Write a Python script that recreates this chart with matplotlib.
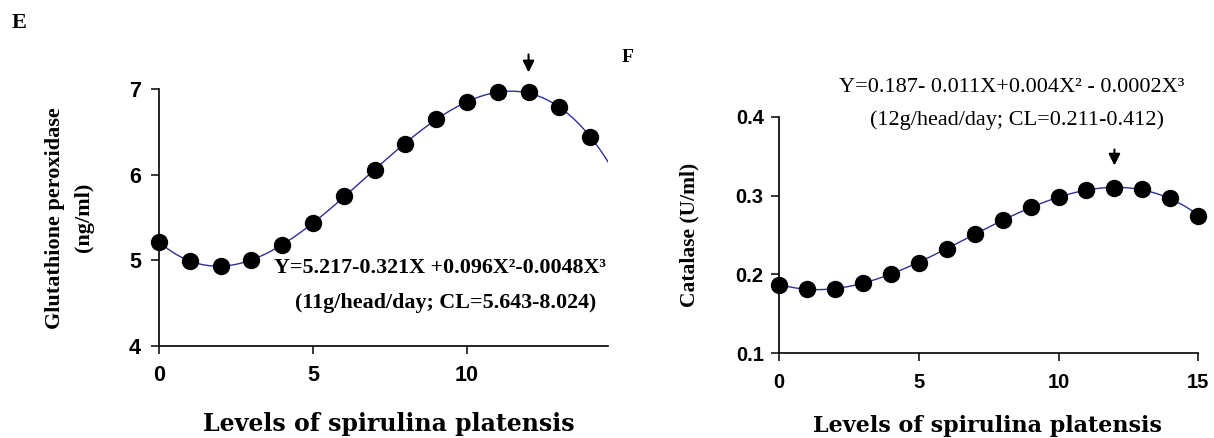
import numpy as np
import matplotlib
matplotlib.use('Agg')
import matplotlib.pyplot as plt

# valores (E: glutationa peroxidase, F: catalase)
levels_e = [0, 1, 2, 3, 4, 5, 6, 7, 8, 9, 10, 11, 12, 13, 14]
gpx = [5.22, 4.99, 4.93, 5.01, 5.18, 5.44, 5.75, 6.06, 6.36, 6.65,
       6.85, 6.965, 6.965, 6.79, 6.445]
levels_f = [0, 1, 2, 3, 4, 5, 6, 7, 8, 9, 10, 11, 12, 13, 14, 15]
catalase = [0.187, 0.182, 0.182, 0.189, 0.201, 0.215, 0.232, 0.251, 0.269,
            0.285, 0.298, 0.307, 0.309, 0.308, 0.297, 0.2745]

opt_e = 12
opt_f = 12
eq_e = ["Y=5.217-0.321X +0.096X\u00b2-0.0048X\u00b3",
        "(11g/head/day; CL=5.643-8.024)"]
eq_f = ["Y=0.187- 0.011X+0.004X\u00b2 - 0.0002X\u00b3",
        "(12g/head/day; CL=0.211-0.412)"]
xlab = "Levels of spirulina platensis"

SERIF = 'Liberation Serif'
SLAB = 'DejaVu Serif'
SANS = 'Liberation Sans'
LINE_C = '#2E2E9C'

W, H = 1214, 438
fig = plt.figure(figsize=(W / 100, H / 100), dpi=100)


def px_axes(x0, x1, y0, y1):
    # caixa em pixels -> fracao da figura
    return fig.add_axes([x0 / W, 1 - y1 / H, (x1 - x0) / W, (y1 - y0) / H])


def style(ax, tick_size, pad_y):
    for s in ['top', 'right']:
        ax.spines[s].set_visible(False)
    for s in ['left', 'bottom']:
        ax.spines[s].set_linewidth(1.2)
    ax.tick_params(direction='out', length=6, width=1.1, labelsize=tick_size)
    ax.tick_params(axis='y', pad=pad_y)
    ax.tick_params(axis='x', pad=8)
    for lb in ax.get_xticklabels() + ax.get_yticklabels():
        lb.set_fontfamily(SANS)
        lb.set_fontweight('bold')


def draw(ax, x, y, xmax):
    coef = np.polyfit(x, y, 3)
    xs = np.linspace(0, xmax, 300)
    ax.plot(xs, np.polyval(coef, xs), color=LINE_C, lw=1.0, zorder=2)
    ax.plot(x, y, 'o', color='black', ms=11.5, zorder=3, clip_on=False)


ARROW = dict(arrowstyle='-|>', color='black', lw=1.5, mutation_scale=17)

# %% painel E
axE = px_axes(159, 608.3, 89.3, 346)
draw(axE, levels_e, gpx, 14.59)
axE.set_xlim(0, 14.59)
axE.set_ylim(4, 7)
axE.set_xticks([0, 5, 10])
axE.set_yticks([4, 5, 6, 7])
style(axE, 15.5, 7)
axE.set_ylabel("Glutathione peroxidase\n(ng/ml)", fontfamily=SERIF,
               fontweight='bold', fontsize=16, linespacing=1.6, va='center')
axE.yaxis.set_label_coords(-0.199, 0.5)
axE.set_xlabel(xlab, fontfamily=SLAB, fontweight='bold', fontsize=17,
               va='center')
axE.xaxis.set_label_coords(0.511, -0.304)
axE.text(9.12, 4.912, eq_e[0], ha='center', va='center', fontfamily=SERIF,
         fontweight='bold', fontsize=15.8)
axE.text(9.3, 4.506, eq_e[1], ha='center', va='center', fontfamily=SERIF,
         fontweight='bold', fontsize=15.8)
ye = gpx[levels_e.index(opt_e)]
axE.annotate('', xy=(opt_e, ye + 0.2), xytext=(opt_e, ye + 0.475),
             arrowprops=ARROW, annotation_clip=False)
fig.text(12 / W, 1 - 28 / H, 'E', fontfamily=SERIF, fontweight='bold',
         fontsize=16, va='baseline')

# %% painel F
axF = px_axes(779, 1198.3, 116.7, 353.3)
draw(axF, levels_f, catalase, 15)
axF.set_xlim(0, 15)
axF.set_ylim(0.1, 0.4)
axF.set_xticks([0, 5, 10, 15])
axF.set_yticks([0.1, 0.2, 0.3, 0.4])
axF.set_yticklabels(['0.1', '0.2', '0.3', '0.4'])
style(axF, 14.5, 5)
axF.set_ylabel("Catalase (U/ml)", fontfamily=SERIF, fontweight='bold',
               fontsize=15.5, va='center')
axF.yaxis.set_label_coords(-0.2146, 0.5)
axF.set_xlabel(xlab, fontfamily=SLAB, fontweight='bold', fontsize=16,
               va='center')
axF.xaxis.set_label_coords(0.498, -0.307)
axF.text(8.33, 0.4364, eq_f[0], ha='center', va='center', fontfamily=SERIF,
         fontsize=16, clip_on=False)
axF.text(8.5, 0.3958, eq_f[1], ha='center', va='center', fontfamily=SERIF,
         fontsize=16, clip_on=False)
yf = catalase[levels_f.index(opt_f)]
axF.annotate('', xy=(opt_f, yf + 0.0256), xytext=(opt_f, yf + 0.053),
             arrowprops=ARROW, annotation_clip=False)
fig.text(622 / W, 1 - 62 / H, 'F', fontfamily=SERIF, fontweight='bold',
         fontsize=14, va='baseline')

fig.savefig('out.png', dpi=100)
